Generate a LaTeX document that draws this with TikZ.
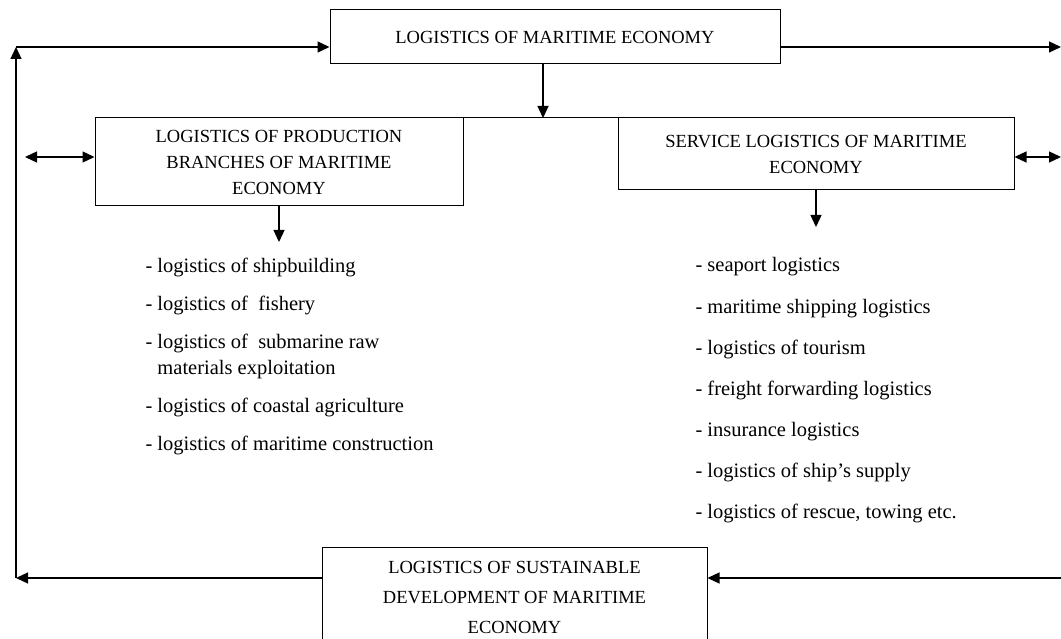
\documentclass[tikz,border=0pt]{standalone}
\usepackage{fontspec}
\setmainfont{Liberation Serif}
\usetikzlibrary{arrows.meta,positioning}

\begin{document}
\begin{tikzpicture}[x=1pt,y=-1pt,line width=1pt,>={Triangle[length=12pt,width=11pt]}]
  \tikzstyle{box}=[draw,align=center,inner sep=0pt,font=\fontsize{18.5}{26}\selectfont]
  \tikzstyle{item}=[anchor=base west,align=left,inner sep=0pt,font=\fontsize{20.5}{26}\selectfont]
  \tikzstyle{conn}=[line width=1.3pt]
  \useasboundingbox (0,0) rectangle (1061,639);
  \clip (0,0) rectangle (1061,639);

  \node[box,minimum width=450pt,minimum height=54pt] (B-top) at (555,37) {LOGISTICS OF MARITIME ECONOMY};
  \node[box,minimum width=368pt,minimum height=88pt] (B-prod) at (279,162) {LOGISTICS OF PRODUCTION\\ BRANCHES OF MARITIME\\ ECONOMY};
  \node[box,minimum width=396pt,minimum height=72pt] (B-serv) at (816,154) {SERVICE LOGISTICS OF MARITIME\\ ECONOMY};
  \node[box,minimum width=385pt,minimum height=100pt,font=\fontsize{18.5}{30}\selectfont] (B-sust) at (514.5,597) {LOGISTICS OF SUSTAINABLE\\ DEVELOPMENT OF MARITIME\\ ECONOMY};

  \coordinate (C-tl) at (16,47);
  \coordinate (C-bl) at (16,578);
  \coordinate (C-tr) at (1061,47);
  \coordinate (C-br) at (1070,578);
  \coordinate (C-ml) at (25,157);
  \coordinate (C-mr) at (1061,157);
  \coordinate (C-mid) at (543,118);
  \coordinate (C-pd) at (279,242);
  \coordinate (C-sd) at (816,227);

  \draw[conn,->] (B-top.south -| C-mid) -- (C-mid);
  \draw (B-prod.north east) -- (B-serv.north west);
  \draw[conn,->] (B-prod.south) -- (C-pd);
  \draw[conn,->] (B-serv.south) -- (C-sd);
  \draw[conn,<->] (C-ml) -- (C-ml -| B-prod.west);
  \draw[conn,<->] (C-mr -| B-serv.east) -- (C-mr);

  \draw[conn,->] (C-bl -| B-sust.west) -- (C-bl);
  \draw[conn,->] (C-bl) -- (C-tl);
  \draw[conn,->] (C-tl) -- (C-tl -| B-top.west);
  \draw[conn,->] (C-tr -| B-top.east) -- (C-tr);
  \draw[conn,->] (C-br) -- (C-br -| B-sust.east);

  \foreach \y/\text [count=\i] in {273/{- logistics of shipbuilding},310/{- logistics of~ fishery},
      374/{- logistics of~ submarine raw\\\hphantom{- }materials exploitation},412/{- logistics of coastal agriculture},
      450/{- logistics of maritime construction}}
    \node[item] (L-\i) at (145,\y) {\text};

  \foreach \y/\text [count=\i] in {272/{- seaport logistics},313/{- maritime shipping logistics},354/{- logistics of tourism},
      395/{- freight forwarding logistics},436/{- insurance logistics},477/{- logistics of ship’s supply},
      518/{- logistics of rescue, towing etc.}}
    \node[item] (R-\i) at (695,\y) {\text};
\end{tikzpicture}
\end{document}
